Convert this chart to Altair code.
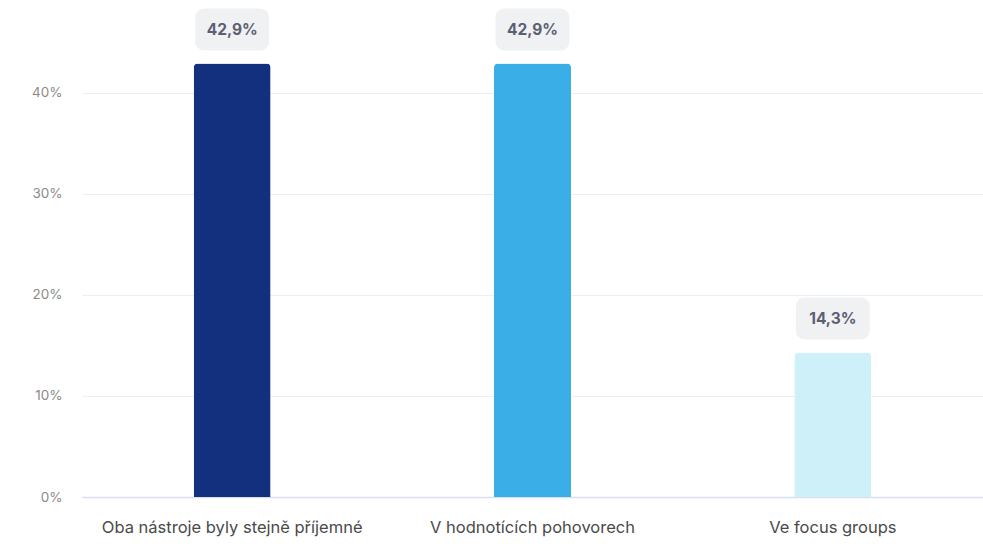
import altair as alt
import pandas as pd

categories = ["Oba nástroje byly stejně příjemné", "V hodnotících pohovorech", "Ve focus groups"]
shares = [42.9, 42.9, 14.3]
labels = ["42,9%", "42,9%", "14,3%"]
colors = ["#13307f", "#3aaee6", "#cdf0f9"]
y_ticks = [0, 10, 20, 30, 40]

df = pd.DataFrame({"cat": categories, "share": shares, "label": labels, "color": colors})

font = "Inter"

x_enc = alt.X("cat:N", sort=categories, title=None,
              scale=alt.Scale(paddingInner=0, paddingOuter=0),
              axis=alt.Axis(labelAngle=0, labelFontSize=16.5, labelColor="#4a4a4a",
                            labelFont=font, labelPadding=22, ticks=False,
                            domainColor="#d9ddee", domainWidth=1.5, labelLimit=400))
y_scale = alt.Scale(domain=[0, 48], nice=False)

base = alt.Chart(df).encode(x=x_enc)

bars = base.mark_bar(width=77, cornerRadiusTopLeft=4, cornerRadiusTopRight=4).encode(
    y=alt.Y("share:Q", scale=y_scale, title=None,
            axis=alt.Axis(values=y_ticks, labelExpr="datum.value + '%'", labelFontSize=13.5,
                          labelColor="#8a8a8a", labelFont=font, labelPadding=20,
                          ticks=False, domain=False, gridColor="#eceef4", gridWidth=1)),
    color=alt.Color("color:N", scale=None),
)

badges = base.mark_bar(width=74, cornerRadius=9, color="#f0f1f3", yOffset=-13, y2Offset=-55).encode(
    y=alt.Y("share:Q", scale=y_scale),
    y2="share:Q",
)

texts = base.mark_text(yOffset=-34, baseline="middle", fontSize=15.5, fontWeight="bold",
                       font=font, color="#5b5f72").encode(
    y=alt.Y("share:Q", scale=y_scale),
    text="label:N",
)

chart = (bars + badges + texts).properties(
    width=901, height=485,
    autosize=alt.AutoSizeParams(type="none"),
    padding={"left": 82, "top": 12, "right": 0, "bottom": 61},
).configure(background="white").configure_view(stroke=None, strokeWidth=0)

chart.save("out.html", embed_options={"renderer": "svg", "actions": False})
